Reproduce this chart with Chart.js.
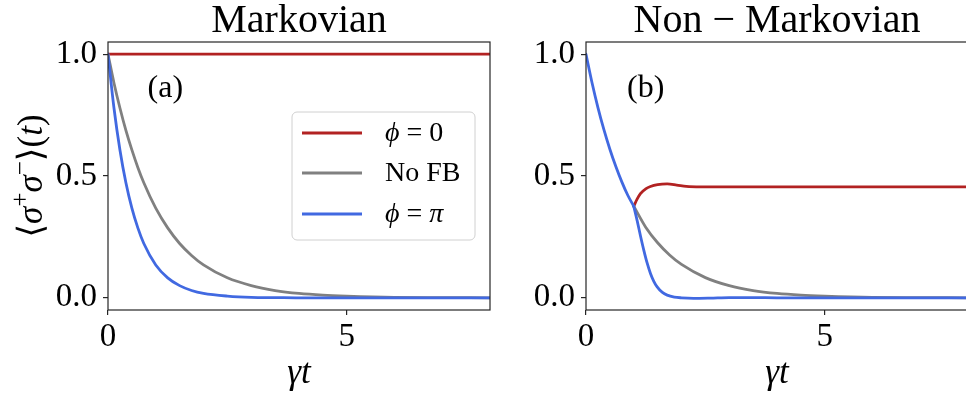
<!DOCTYPE html>
<html>
<head>
<meta charset="utf-8">
<script src="https://cdn.jsdelivr.net/npm/chart.js@4/dist/chart.umd.min.js"></script>
<style>
  html, body { margin: 0; padding: 0; background: #fff; overflow: hidden; width: 966px; height: 396px; }
  #panelA { position: absolute; left: 0; top: 0; }
  #panelB { position: absolute; left: 492px; top: 0; }
</style>
</head>
<body>
<canvas id="panelA" width="492" height="396"></canvas>
<canvas id="panelB" width="478" height="396"></canvas>
<script>
// ---- data -------------------------------------------------------------
const seriesLabels = ['ϕ = 0', 'No FB', 'ϕ = π'];
const seriesColors = ['#b22222', '#808080', '#4169e1'];

const xTicks = [0, 5];
const xTickLabels = ['0', '5'];
const yTicks = [0, 0.5, 1];
const yTickLabels = ['0.0', '0.5', '1.0'];

// (a) Markovian feedback
const tMark     = [0, 0.125, 0.25, 0.375, 0.5, 0.625, 0.75, 1, 1.25, 1.5, 1.75, 2, 2.5, 3, 3.5, 4, 4.5, 5, 6, 7, 8];
const markPhi0  = [1, 1, 1, 1, 1, 1, 1, 1, 1, 1, 1, 1, 1, 1, 1, 1, 1, 1, 1, 1, 1];
const markNoFb  = [1, 0.882, 0.779, 0.687, 0.607, 0.535, 0.472, 0.368, 0.287, 0.223, 0.174, 0.135, 0.082, 0.050, 0.030, 0.018, 0.011, 0.007, 0.002, 0.001, 0];
const markPhiPi = [1, 0.779, 0.607, 0.472, 0.368, 0.287, 0.223, 0.135, 0.082, 0.050, 0.030, 0.018, 0.007, 0.002, 0.001, 0, 0, 0, 0, 0, 0];

// (b) Non-Markovian feedback: identical decay until the delay time, then the branches split
const tShared      = [0, 0.125, 0.25, 0.375, 0.5, 0.625, 0.75, 0.875, 1];
const sharedDecay  = [1, 0.884, 0.781, 0.690, 0.610, 0.539, 0.476, 0.421, 0.376];

const tRedPost  = [1, 1.07, 1.14, 1.25, 1.35, 1.5, 1.7, 1.9, 2.1, 2.4, 3, 4, 5, 6, 7, 8];
const redPost   = [0.376, 0.405, 0.428, 0.447, 0.457, 0.465, 0.468, 0.463, 0.457, 0.455, 0.455, 0.455, 0.455, 0.455, 0.455, 0.455];

const tGrayPost = [1, 1.25, 1.5, 1.75, 2, 2.5, 3, 3.5, 4, 4.5, 5, 6, 7, 8];
const grayPost  = [0.376, 0.290, 0.226, 0.176, 0.137, 0.083, 0.050, 0.030, 0.018, 0.011, 0.007, 0.002, 0.001, 0];

const tBluePost = [1, 1.07, 1.14, 1.21, 1.28, 1.35, 1.42, 1.49, 1.6, 1.7, 1.85, 2, 2.25, 2.6, 3, 3.5, 4, 5, 6, 7, 8];
const bluePost  = [0.376, 0.318, 0.255, 0.196, 0.143, 0.100, 0.068, 0.045, 0.022, 0.011, 0.003, 0.0, -0.002, -0.001, 0.001, 0.001, 0, 0, 0, 0, 0];

// ---- helpers ----------------------------------------------------------
const SERIF = '"Liberation Serif", "DejaVu Serif", serif';
const pts = (xs, ys) => xs.map((x, i) => ({ x: x, y: ys[i] }));

function line(label, color, xs, ys, order) {
  return {
    label: label, data: pts(xs, ys), borderColor: color, backgroundColor: color,
    borderWidth: 2.8, pointRadius: 0, fill: false, order: order,
    cubicInterpolationMode: 'monotone', borderCapStyle: 'round'
  };
}

// Splits a label into runs, Greek letters set in italic (math style).
function mathRuns(str, size) {
  const runs = [];
  for (const ch of str) {
    const italic = /[α-ωϕϑ]/.test(ch);
    runs.push({ t: ch, f: (italic ? 'italic ' : '') + size + 'px ' + SERIF });
  }
  return runs;
}
function drawRuns(ctx, runs, x, y) {
  let cx = x;
  for (const r of runs) {
    ctx.font = r.f;
    ctx.fillText(r.t, cx, y + (r.dy || 0));
    cx += ctx.measureText(r.t).width;
  }
  return cx;
}
function runsWidth(ctx, runs) {
  let w = 0;
  for (const r of runs) { ctx.font = r.f; w += ctx.measureText(r.t).width; }
  return w;
}

// Box, titles, panel tag, axis labels and legend
const decorations = {
  id: 'decorations',
  afterDraw(chart, args, o) {
    const ctx = chart.ctx;
    const a = chart.chartArea;
    const xs = chart.scales.x, ys = chart.scales.y;
    ctx.save();
    // frame
    ctx.strokeStyle = '#262626';
    ctx.lineWidth = 1.2;
    ctx.strokeRect(a.left, a.top, a.right - a.left, a.bottom - a.top);

    ctx.fillStyle = '#000';
    // panel title
    ctx.textAlign = 'center';
    ctx.textBaseline = 'alphabetic';
    ctx.font = '40px ' + SERIF;
    ctx.fillText(o.title, (a.left + a.right) / 2, 32);

    // panel tag
    ctx.font = '32px ' + SERIF;
    ctx.textBaseline = 'middle';
    ctx.fillText(o.tag, xs.getPixelForValue(o.tagAt[0]), ys.getPixelForValue(o.tagAt[1]));

    // x axis title
    ctx.textBaseline = 'alphabetic';
    ctx.textAlign = 'left';
    const xr = [{ t: 'γ', f: 'italic 35px ' + SERIF }, { t: 't', f: 'italic 35px ' + SERIF }];
    const xw = runsWidth(ctx, xr);
    drawRuns(ctx, xr, (a.left + a.right) / 2 - xw / 2, 383);

    // y axis title
    if (o.yLabel) {
      const up = '35px ' + SERIF, it = 'italic 35px ' + SERIF, sup = '25px ' + SERIF;
      const yr = [
        { t: '⟨', f: up }, { t: 'σ', f: it }, { t: '+', f: sup, dy: -14 },
        { t: 'σ', f: it }, { t: '−', f: sup, dy: -14 }, { t: '⟩', f: up },
        { t: '(', f: up }, { t: 't', f: it }, { t: ')', f: up }
      ];
      const yw = runsWidth(ctx, yr);
      ctx.save();
      ctx.translate(42, (a.top + a.bottom) / 2);
      ctx.rotate(-Math.PI / 2);
      drawRuns(ctx, yr, -yw / 2, 0);
      ctx.restore();
    }

    // legend
    if (o.legend) {
      const bx = 292, by = 112, bw = 183, bh = 128, r = 5;
      ctx.beginPath();
      ctx.moveTo(bx + r, by);
      ctx.arcTo(bx + bw, by, bx + bw, by + bh, r);
      ctx.arcTo(bx + bw, by + bh, bx, by + bh, r);
      ctx.arcTo(bx, by + bh, bx, by, r);
      ctx.arcTo(bx, by, bx + bw, by, r);
      ctx.closePath();
      ctx.fillStyle = 'rgba(255,255,255,0.8)';
      ctx.fill();
      ctx.strokeStyle = '#d0d0d0';
      ctx.lineWidth = 1;
      ctx.stroke();
      const rowsY = [133, 173, 214];
      chart.data.datasets.slice().sort((p, q) => seriesLabels.indexOf(p.label) - seriesLabels.indexOf(q.label))
        .forEach((ds, i) => {
          ctx.strokeStyle = ds.borderColor;
          ctx.lineWidth = 2.8;
          ctx.beginPath();
          ctx.moveTo(302, rowsY[i]);
          ctx.lineTo(362, rowsY[i]);
          ctx.stroke();
          ctx.fillStyle = '#000';
          ctx.textAlign = 'left';
          ctx.textBaseline = 'middle';
          drawRuns(ctx, mathRuns(ds.label, 28), 385, rowsY[i] + 1);
        });
    }
    ctx.restore();
  }
};

function scales(yWidth) {
  const tickFont = { family: SERIF, size: 33 };
  const grid = { drawOnChartArea: false, drawTicks: true, tickLength: 5, color: '#262626', lineWidth: 1.2 };
  return {
    x: {
      type: 'linear', position: 'bottom', min: 0, max: 8,
      grid: grid, border: { display: false },
      afterBuildTicks: s => { s.ticks = xTicks.map(v => ({ value: v })); },
      afterFit: s => { s.height = 86; },
      ticks: {
        font: tickFont, color: '#000', padding: 3, maxRotation: 0, autoSkip: false,
        callback: v => xTickLabels[xTicks.indexOf(v)]
      }
    },
    y: {
      type: 'linear', position: 'left', min: -0.05, max: 1.05,
      grid: grid, border: { display: false },
      afterBuildTicks: s => { s.ticks = yTicks.map(v => ({ value: v })); },
      afterFit: s => { s.width = yWidth; },
      ticks: {
        font: tickFont, color: '#000', padding: 6, autoSkip: false,
        callback: v => yTickLabels[yTicks.indexOf(v)]
      }
    }
  };
}

function makeChart(id, datasets, yWidth, deco) {
  return new Chart(document.getElementById(id), {
    type: 'line',
    data: { datasets: datasets },
    options: {
      responsive: false, animation: false, parsing: true,
      layout: { padding: { top: 42, right: 2, bottom: 0, left: 0 } },
      scales: scales(yWidth),
      plugins: { legend: { display: false }, tooltip: { enabled: false }, decorations: deco }
    },
    plugins: [decorations]
  });
}

makeChart('panelA', [
  line(seriesLabels[0], seriesColors[0], tMark, markPhi0, 3),
  line(seriesLabels[1], seriesColors[1], tMark, markNoFb, 2),
  line(seriesLabels[2], seriesColors[2], tMark, markPhiPi, 1)
], 108, { title: 'Markovian', tag: '(a)', tagAt: [1.2, 0.86], yLabel: true, legend: true });

makeChart('panelB', [
  line(seriesLabels[0], seriesColors[0], tRedPost, redPost, 4),
  line(seriesLabels[1], seriesColors[1], tGrayPost, grayPost, 3),
  line(seriesLabels[2], seriesColors[2], tBluePost, bluePost, 2),
  line(seriesLabels[2], seriesColors[2], tShared, sharedDecay, 1)
], 94, { title: 'Non − Markovian', tag: '(b)', tagAt: [1.25, 0.86], yLabel: false, legend: false });
</script>
</body>
</html>
